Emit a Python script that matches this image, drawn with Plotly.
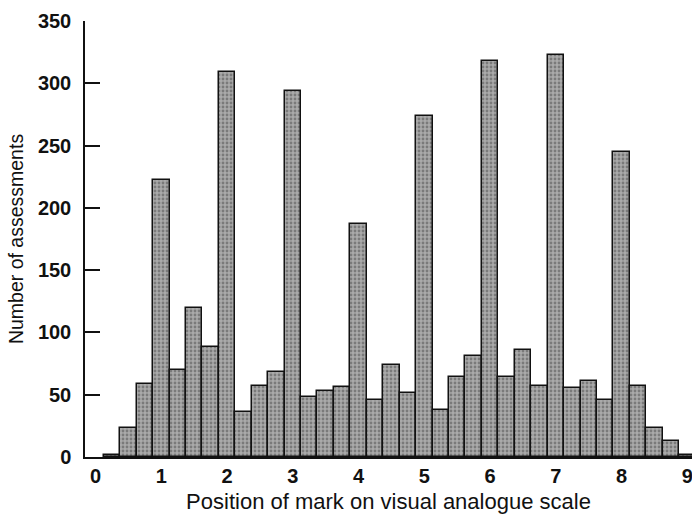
import plotly.graph_objects as go

positions = [0.25, 0.5, 0.75, 1.0, 1.25, 1.5, 1.75, 2.0, 2.25, 2.5, 2.75, 3.0,
             3.25, 3.5, 3.75, 4.0, 4.25, 4.5, 4.75, 5.0, 5.25, 5.5, 5.75, 6.0,
             6.25, 6.5, 6.75, 7.0, 7.25, 7.5, 7.75, 8.0, 8.25, 8.5, 8.75, 9.0]
counts = [2, 23, 59, 222, 70, 120, 88, 309, 36, 57, 68, 294,
          48, 53, 56, 187, 46, 74, 51, 274, 38, 64, 81, 318,
          64, 86, 57, 323, 55, 61, 46, 245, 57, 23, 13, 2]
x_ticks = [0, 1, 2, 3, 4, 5, 6, 7, 8, 9]
y_ticks = [0, 50, 100, 150, 200, 250, 300, 350]

fig = go.Figure()
fig.add_trace(go.Bar(
    x=positions, y=counts, width=0.25,
    marker=dict(color="#a0a0a0",
                line=dict(color="#111111", width=1.5),
                pattern=dict(shape=".", fgcolor="#4a4a4a", bgcolor="#aaaaaa",
                             size=4, solidity=0.4)),
    showlegend=False,
))

font_family = "Liberation Sans, Arial, sans-serif"
fig.update_layout(
    width=692, height=514,
    margin=dict(l=85, r=0, t=21, b=57),
    paper_bgcolor="white", plot_bgcolor="white",
    bargap=0,
    font=dict(family=font_family, color="#111111"),
    xaxis=dict(range=[-0.16, 9.07], tickvals=x_ticks, ticks="",
               showline=True, linecolor="#111111", linewidth=1.5,
               showgrid=False, zeroline=False,
               ticklabeloverflow="allow",
               tickfont=dict(size=20, family=font_family, weight="bold"),
               title=dict(text="Position of mark on visual analogue scale",
                          font=dict(size=22), standoff=13)),
    yaxis=dict(range=[0, 350], tickvals=y_ticks, ticks="inside", ticklen=15,
               tickwidth=1.5, tickcolor="#111111",
               showline=True, linecolor="#111111", linewidth=1.5,
               showgrid=False, zeroline=False,
               tickfont=dict(size=20, family=font_family, weight="bold"),
               ticklabelstandoff=8,
               title=dict(text="Number of assessments",
                          font=dict(size=19.5), standoff=9)),
)

fig.write_html("out.html")
